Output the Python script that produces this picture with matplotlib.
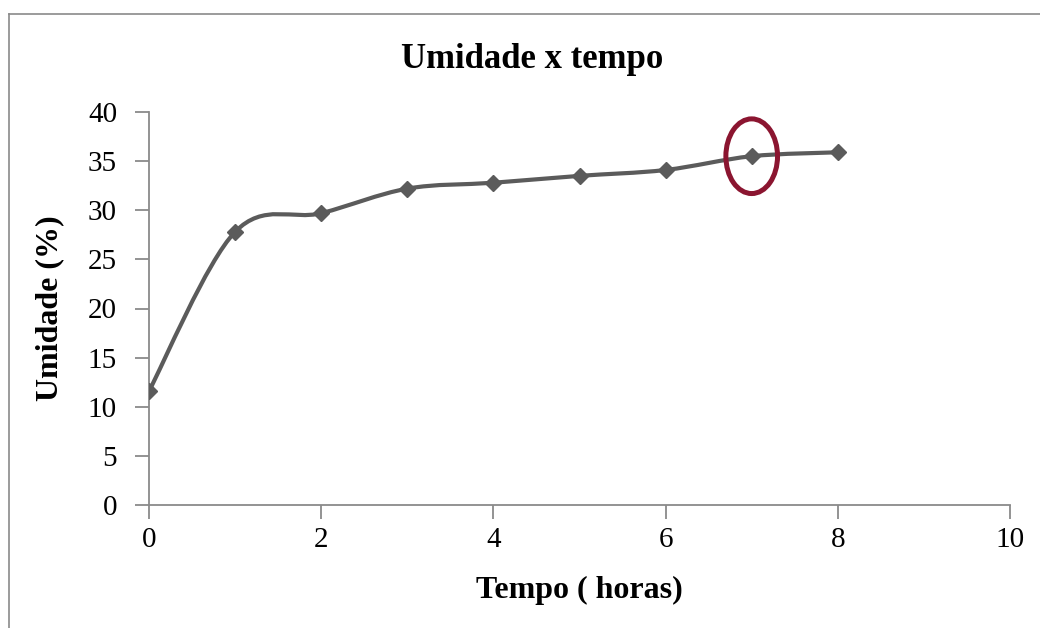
import matplotlib
matplotlib.use("Agg")
import matplotlib.pyplot as plt
from matplotlib.path import Path
from matplotlib.patches import PathPatch, Ellipse
from matplotlib.lines import Line2D

# tempo (horas) x umidade (%)
tempo = [0, 1, 2, 3, 4, 5, 6, 7, 8]
umidade = [11.6, 27.8, 29.7, 32.2, 32.8, 33.5, 34.1, 35.5, 35.9]
destaque = 7  # ponto circulado

plt.rcParams['font.family'] = ['Liberation Serif', 'DejaVu Serif']

fig = plt.figure(figsize=(10.4, 6.28), dpi=100)
ax = fig.add_axes([149/1040, 1-505/628, (1010-149)/1040, (505-112)/628])

cor_linha = '#5b5b5b'
cinza = '#8a8a8a'

# curva suavizada (bezier tipo excel) passando pelos pontos
n = len(tempo)
verts = [(tempo[0], umidade[0])]
codes = [Path.MOVETO]
for i in range(n-1):
    x0, y0 = tempo[max(i-1, 0)], umidade[max(i-1, 0)]
    x1, y1 = tempo[i], umidade[i]
    x2, y2 = tempo[i+1], umidade[i+1]
    x3, y3 = tempo[min(i+2, n-1)], umidade[min(i+2, n-1)]
    c1 = (x1 + (x2-x0)/6, y1 + (y2-y0)/6)
    c2 = (x2 - (x3-x1)/6, y2 - (y3-y1)/6)
    verts += [c1, c2, (x2, y2)]
    codes += [Path.CURVE4]*3
ax.add_patch(PathPatch(Path(verts, codes), facecolor='none', edgecolor=cor_linha, lw=3, zorder=3))
ax.plot(tempo, umidade, ls='none', marker='D', ms=8, color=cor_linha, zorder=4)

i7 = tempo.index(destaque)
ax.add_patch(Ellipse((tempo[i7], umidade[i7]), 0.6, 7.6, facecolor='none',
                     edgecolor='#8b1530', lw=3.6, zorder=5))

ax.set_xlim(0, 10)
ax.set_ylim(0, 40)
ax.set_xticks(range(0, 11, 2))
ax.set_yticks(range(0, 41, 5))
for s in ['top', 'right']:
    ax.spines[s].set_visible(False)
for s in ['left', 'bottom']:
    ax.spines[s].set_color(cinza)
    ax.spines[s].set_linewidth(1.3)
ax.tick_params(direction='out', length=10, width=1.3, color=cinza, labelsize=21)
ax.tick_params(axis='x', pad=6)
ax.tick_params(axis='y', pad=13)
fig.text(532/1040, 1-68/628, 'Umidade x tempo', fontsize=25, fontweight='bold',
         ha='center', va='baseline')
ax.set_xlabel('Tempo ( horas)', fontsize=23, fontweight='bold', labelpad=16)
ax.set_ylabel('Umidade (%)', fontsize=23, fontweight='bold', labelpad=17)

# moldura do gráfico
fig.add_artist(Line2D([8.5/1040, 8.5/1040], [0, 1-13.5/628], color=cinza, lw=1.2))
fig.add_artist(Line2D([8.5/1040, 1], [1-13.5/628, 1-13.5/628], color=cinza, lw=1.2))

fig.savefig('out.png', dpi=100)
